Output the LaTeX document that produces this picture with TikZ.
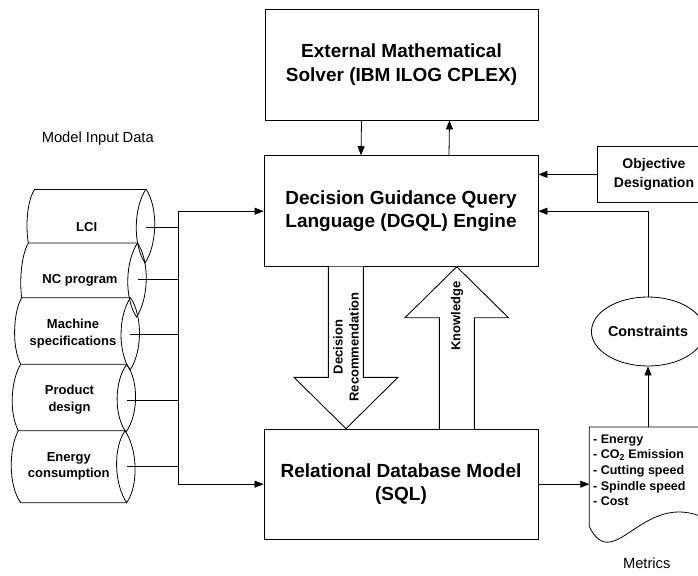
\documentclass[tikz,border=0pt]{standalone}
\usepackage{fontspec}
\setmainfont{Liberation Sans}
\usetikzlibrary{arrows.meta,shapes.geometric,calc}
\newcommand\fsz[2]{\fontsize{#1}{#2}\selectfont}
\begin{document}
\begin{tikzpicture}[x=1pt,y=-1pt,
  bigbox/.style={draw, line width=0.9pt, inner sep=0pt, align=center, font=\bfseries\fsz{19}{23.5}},
  arr/.style={line width=0.8pt, -{Triangle[length=9pt,width=7pt]}},
  ln/.style={line width=0.8pt},
  shp/.style={line width=0.8pt},
  cyltext/.style={align=center, inner sep=0pt, font=\bfseries\fsz{13}{16.5}},
  blk/.style={line width=0.9pt, fill=white},
  blktext/.style={align=center, inner sep=0pt, rotate=90, font=\bfseries\fsz{13}{16}},
  plain/.style={inner sep=0pt, font=\fsz{14.7}{17}}]
\useasboundingbox (0,0) rectangle (698,575);
\clip (0,0) rectangle (698,575);

% main boxes
\node[bigbox, minimum width=273, minimum height=111] (solver) at (401.5,64.5) {External Mathematical\\Solver (IBM ILOG CPLEX)};
\node[bigbox, minimum width=274, minimum height=111] (dgql) at (401,211.2) {Decision Guidance Query\\Language (DGQL) Engine};
\node[bigbox, minimum width=274, minimum height=110.3] (sql) at (401,484.2) {Relational Database Model\\(SQL)};

% solver <-> dgql
\draw[arr] ([xshift=-40pt]solver.south) -- ([xshift=-40pt]dgql.north);
\draw[arr] ([xshift=48pt]dgql.north) -- ([xshift=48pt]solver.south);

% objective designation
\node[draw, line width=0.9pt, minimum width=114, minimum height=55.3, inner sep=0pt, align=center,
      font=\bfseries\fsz{14}{18.3}] (obj) at (654,174.4) {Objective\\Designation};
\draw[arr] (obj.west) -- (obj.west -| dgql.east);

% constraints
\node[draw, ellipse, line width=0.8pt, minimum width=113, minimum height=69, inner sep=0pt,
      font=\bfseries\fsz{14.4}{17}] (cons) at (648,331.5) {Constraints};
\draw[arr] (cons.north) |- (dgql.east);

% metrics document
\draw[shp] (720,427) -- (589.3,427) -- (589.3,526.7)
  .. controls (615,578) and (645,482) .. (712,522);
\node[anchor=north west, align=left, inner sep=0pt, font=\bfseries\fsz{12.5}{15.6}] (met) at (593,434.5)
  {- Energy\\- CO\textsubscript{2} Emission\\- Cutting speed\\- Spindle speed\\- Cost};
\coordinate (mettop) at (648,427);
\coordinate (metleft) at (589.3,485);
\draw[arr] (sql.east) -- (sql.east -| metleft);
\draw[arr] (mettop) -- (cons.south);
\node[plain] (metlab) at (646.7,563) {Metrics};

% block arrows
\draw[blk] (328.3,266.7) -- (328.3,377.3) -- (294,377.3) -- (346,428.7) -- (398,377.3) -- (363.3,377.3) -- (363.3,266.7);
\draw[blk] (439.3,429) -- (439.3,317.7) -- (405,317.7) -- (456.7,266.7) -- (508.4,317.7) -- (474.3,317.7) -- (474.3,429);
\node[blktext] (dec) at (346,347) {Decision\\Recommendation};
\node[blktext] (know) at (457,316) {Knowledge};

% model input data label
\node[plain] (midlab) at (97.8,139) {Model Input Data};

% cylinders (stacked data stores)
% 1 LCI
\draw[shp] (35,189) -- (146,189);
\draw[shp] (35,189) .. controls (27,200) and (25.5,226) .. (28.3,243) -- (137.5,243);
\draw[shp] (146,189) .. controls (133.7,207.5) and (132.7,244.5) .. (145,263)
           .. controls (157.3,244.5) and (158.3,207.5) .. (146,189);
% 2 NC program
\draw[shp] (28.3,243) .. controls (21,256) and (19.5,282) .. (21.7,297.7) -- (130.5,297.7);
\draw[shp] (137.5,243) .. controls (125.2,261.5) and (124.2,298.5) .. (136.5,317)
           .. controls (148.8,298.5) and (149.8,261.5) .. (137.5,243);
% 3 Machine specifications
\draw[shp] (21.7,297.7) .. controls (14,310) and (11,345) .. (20.7,364.3) -- (126.7,364.3);
\draw[shp] (130.5,297.7) .. controls (118.2,315.8) and (117.7,351.9) .. (130,370)
           .. controls (142.3,351.9) and (142.8,315.8) .. (130.5,297.7);
% 4 Product design
\draw[shp] (20.7,364.3) .. controls (12,378) and (8,410) .. (18.3,430.7) -- (125,430.7);
\draw[shp] (126.7,364.3) .. controls (114.4,381.2) and (113.7,415.1) .. (126,432)
           .. controls (138.3,415.1) and (139,381.2) .. (126.7,364.3);
% 5 Energy consumption
\draw[shp] (18.3,430.7) .. controls (9,448) and (8,485) .. (20.7,502.7) -- (126.7,502.7);
\draw[shp] (125,430.7) .. controls (112.7,448.7) and (114.4,484.7) .. (126.7,502.7)
           .. controls (139,484.7) and (137.3,448.7) .. (125,430.7);

\node[cyltext] (lci) at (86.7,226.7) {LCI};
\node[cyltext] (nc) at (80,280) {NC program};
\node[cyltext] (mach) at (73,333.6) {Machine\\specifications};
\node[cyltext] (prod) at (69.5,399.8) {Product\\design};
\node[cyltext] (energy) at (68.8,466.2) {Energy\\consumption};

% connectors from data stores
\coordinate (busx) at (178.3,0);
\coordinate (bus1) at (dgql.west -| busx);
\coordinate (bus2) at (sql.west -| busx);
\coordinate (lciR) at (146,227.3);
\coordinate (ncR) at (138.3,279.3);
\coordinate (machR) at (130,334);
\coordinate (prodR) at (126.7,400);
\coordinate (energyR) at (126.7,466.7);
\draw[ln] (lciR) -- (lciR -| busx);
\draw[ln] (ncR) -- (ncR -| busx);
\draw[ln] (machR) -- (machR -| busx);
\draw[ln] (prodR) -- (prodR -| busx);
\draw[ln] (energyR) -- (energyR -| busx);
\draw[arr] (bus2) -- (bus1) -- (dgql.west);
\draw[arr] (bus1) -- (bus2) -- (sql.west);
\end{tikzpicture}
\end{document}
